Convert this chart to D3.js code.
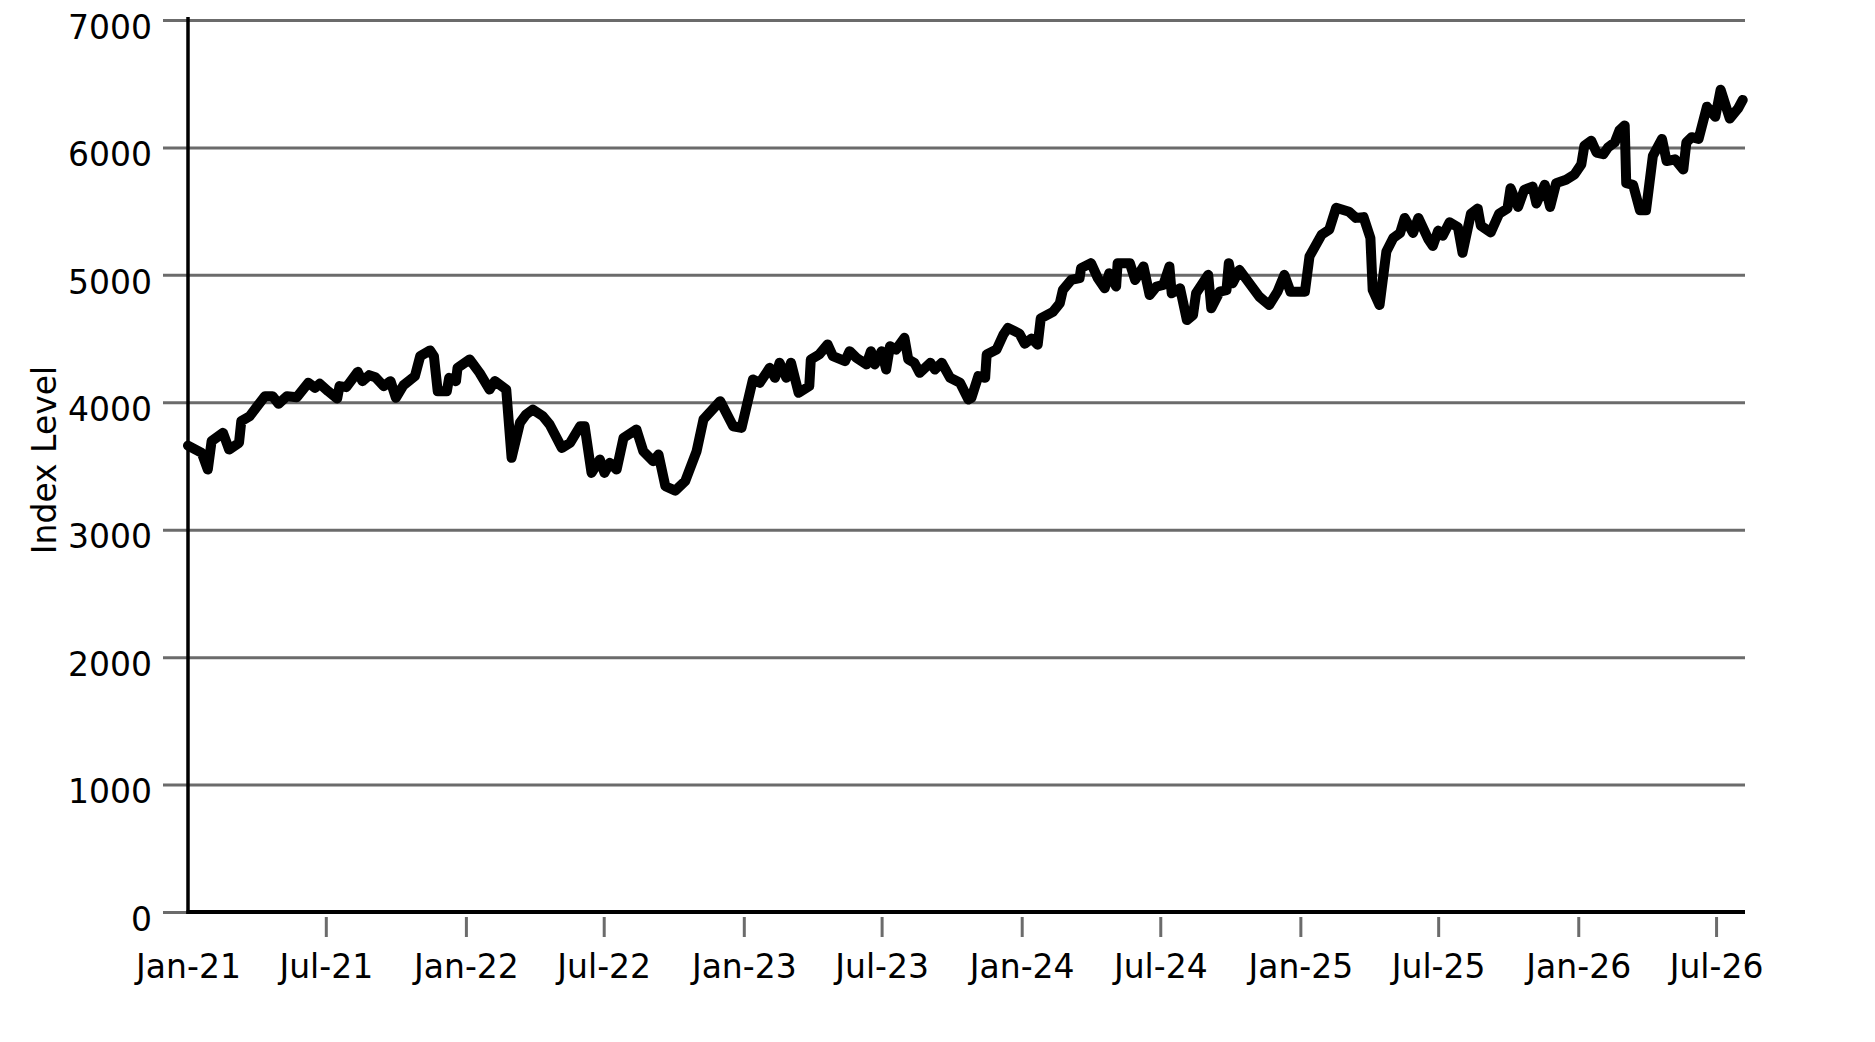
<!DOCTYPE html>
<html>
<head>
<meta charset="utf-8">
<script src="https://cdn.jsdelivr.net/npm/d3@7"></script>
<style>
  html, body { margin: 0; padding: 0; background: #fff; }
  svg { display: block; }
  svg text { font-family: "DejaVu Sans", sans-serif; }
</style>
</head>
<body>
<svg id="chart"></svg>
<script>
// weekly-ish index readings
const dates = [
  "2021-01-01","2021-01-19","2021-01-27","2021-02-01","2021-02-16","2021-02-24","2021-03-09","2021-03-12",
  "2021-03-23","2021-04-12","2021-04-22","2021-04-30","2021-05-11","2021-05-24","2021-06-08","2021-06-17",
  "2021-06-23","2021-07-04","2021-07-16","2021-07-19","2021-07-28","2021-08-12","2021-08-18","2021-08-27",
  "2021-09-04","2021-09-15","2021-09-24","2021-10-01","2021-10-11","2021-10-26","2021-11-02","2021-11-15",
  "2021-11-20","2021-11-25","2021-12-07","2021-12-10","2021-12-19","2021-12-21","2022-01-06","2022-01-19",
  "2022-02-01","2022-02-08","2022-02-23","2022-03-02","2022-03-13","2022-03-21","2022-03-30","2022-04-12",
  "2022-04-21","2022-05-07","2022-05-18","2022-05-31","2022-06-06","2022-06-15","2022-06-26","2022-07-02",
  "2022-07-09","2022-07-18","2022-07-27","2022-08-13","2022-08-22","2022-09-04","2022-09-11","2022-09-20",
  "2022-10-03","2022-10-16","2022-10-31","2022-11-09","2022-12-01","2022-12-18","2022-12-29","2023-01-13",
  "2023-01-22","2023-02-04","2023-02-11","2023-02-17","2023-02-26","2023-03-04","2023-03-14","2023-03-28",
  "2023-03-30","2023-04-10","2023-04-21","2023-04-28","2023-05-14","2023-05-20","2023-05-29","2023-06-11",
  "2023-06-17","2023-06-22","2023-07-01","2023-07-07","2023-07-12","2023-07-20","2023-07-31","2023-08-05",
  "2023-08-13","2023-08-20","2023-09-03","2023-09-09","2023-09-18","2023-09-29","2023-10-12","2023-10-23",
  "2023-10-27","2023-11-05","2023-11-14","2023-11-16","2023-11-29","2023-12-08","2023-12-14","2023-12-29",
  "2024-01-05","2024-01-14","2024-01-22","2024-01-26","2024-02-11","2024-02-20","2024-02-24","2024-03-06",
  "2024-03-17","2024-03-19","2024-04-01","2024-04-10","2024-04-19","2024-04-25","2024-05-04","2024-05-06",
  "2024-05-22","2024-05-29","2024-06-09","2024-06-17","2024-06-26","2024-07-05","2024-07-13","2024-07-16",
  "2024-07-27","2024-08-05","2024-08-13","2024-08-17","2024-09-02","2024-09-06","2024-09-17","2024-09-26",
  "2024-09-29","2024-10-04","2024-10-13","2024-11-08","2024-11-21","2024-12-02","2024-12-11","2024-12-19",
  "2025-01-07","2025-01-13","2025-01-29","2025-02-08","2025-02-17","2025-03-06","2025-03-15","2025-03-25",
  "2025-04-03","2025-04-06","2025-04-15","2025-04-24","2025-05-03","2025-05-12","2025-05-18","2025-05-29",
  "2025-06-05","2025-06-18","2025-06-24","2025-07-01","2025-07-07","2025-07-16","2025-07-27","2025-08-02",
  "2025-08-13","2025-08-22","2025-08-26","2025-09-08","2025-09-19","2025-09-30","2025-10-04","2025-10-14",
  "2025-10-22","2025-11-02","2025-11-07","2025-11-18","2025-11-25","2025-12-03","2025-12-16","2025-12-27",
  "2026-01-05","2026-01-09","2026-01-18","2026-01-25","2026-02-03","2026-02-09","2026-02-18","2026-02-24",
  "2026-03-03","2026-03-05","2026-03-14","2026-03-23","2026-03-31","2026-04-09","2026-04-21","2026-04-27",
  "2026-05-08","2026-05-19","2026-05-23","2026-05-30","2026-06-08","2026-06-19","2026-06-30","2026-07-07",
  "2026-07-19","2026-07-30","2026-08-05"
]

const values = [
  3660, 3603, 3472, 3695, 3760, 3629, 3682, 3852,
  3891, 4048, 4048, 3988, 4048, 4040, 4153, 4113,
  4145, 4087, 4030, 4127, 4119, 4239, 4166, 4213,
  4197, 4127, 4166, 4035, 4134, 4205, 4362, 4407,
  4362, 4087, 4087, 4192, 4166, 4270, 4336, 4231,
  4100, 4166, 4100, 3564, 3839, 3904, 3943, 3891,
  3826, 3642, 3682, 3812, 3812, 3446, 3551, 3446,
  3525, 3472, 3721, 3786, 3616, 3538, 3590, 3341,
  3307, 3381, 3616, 3865, 4009, 3812, 3799, 4179,
  4153, 4270, 4192, 4310, 4192, 4310, 4074, 4127,
  4336, 4375, 4454, 4362, 4323, 4401, 4349, 4297,
  4401, 4297, 4401, 4257, 4440, 4414, 4506, 4336,
  4310, 4231, 4310, 4257, 4310, 4192, 4153, 4022,
  4035, 4205, 4192, 4375, 4414, 4532, 4584, 4539,
  4460, 4500, 4452, 4658, 4710, 4776, 4881, 4960,
  4974, 5053, 5092, 4974, 4895, 5013, 4908, 5092,
  5092, 4960, 5066, 4842, 4908, 4921, 5066, 4855,
  4895, 4645, 4684, 4855, 5000, 4737, 4868, 4881,
  5092, 4934, 5039, 4829, 4763, 4868, 5000, 4868,
  4868, 5145, 5316, 5355, 5526, 5495, 5447, 5453,
  5289, 4881, 4763, 5184, 5289, 5329, 5447, 5329,
  5447, 5280, 5227, 5347, 5307, 5413, 5373, 5173,
  5480, 5520, 5387, 5333, 5480, 5520, 5680, 5533,
  5667, 5693, 5560, 5707, 5533, 5720, 5747, 5787,
  5867, 6013, 6053, 5960, 5947, 6000, 6040, 6133,
  6173, 5720, 5707, 5507, 5507, 5933, 6067, 5893,
  5907, 5827, 6040, 6080, 6067, 6320, 6240, 6453,
  6227, 6307, 6373
]

const yTicks = [0, 1000, 2000, 3000, 4000, 5000, 6000, 7000]
const xTickDates = [
  "2021-01-01","2021-07-01","2022-01-01","2022-07-01","2023-01-01","2023-07-01",
  "2024-01-01","2024-07-01","2025-01-01","2025-07-01","2026-01-01","2026-07-01"
]
const xTickLabels = [
  "Jan-21","Jul-21","Jan-22","Jul-22","Jan-23","Jul-23",
  "Jan-24","Jul-24","Jan-25","Jul-25","Jan-26","Jul-26"
]
const xStart = "2021-01-01"
const xEnd = "2026-08-08"

const parse = d3.timeParse("%Y-%m-%d")
const data = dates.map((d, i) => ({ date: parse(d), value: values[i] }))

const FONT = "'DejaVu Sans', sans-serif"

// svg container
const W = 1875
const H = 1042
const plotLeft = 188
const plotRight = 1745
const plotTop = 20
const plotBottom = 912

const svg = d3.select("#chart")
  .attr("width", W)
  .attr("height", H)

// scaling
const xScale = d3.scaleTime()
  .domain([parse(xStart), parse(xEnd)])
  .range([plotLeft, plotRight])

const yScale = d3.scaleLinear()
  .domain([0, 7000])
  .range([plotBottom, plotTop])

// gridlines (they also poke out left of the axis like ticks)
const grid = svg.append("g")
  .attr("transform", `translate(${plotLeft - 25}, 0)`)
  .call(d3.axisLeft(yScale)
    .tickValues(yTicks)
    .tickSize(-(plotRight - plotLeft + 25))
    .tickFormat(""))
grid.select(".domain").remove()
grid.selectAll(".tick line")
  .attr("stroke", "#6b6b6b")
  .attr("stroke-width", 3)

// y labels
const yAxis = svg.append("g")
  .attr("transform", `translate(${plotLeft}, 0)`)
  .call(d3.axisLeft(yScale)
    .tickValues(yTicks)
    .tickSize(0)
    .tickPadding(36)
    .tickSizeOuter(0)
    .tickFormat(d3.format("d")))
yAxis.attr("font-family", FONT)
yAxis.select(".domain").remove()
yAxis.selectAll("text")
  .attr("dy", "0.55em")
  .style("font-family", FONT)
  .style("font-size", "33px")
  .attr("fill", "#000")

// x axis
const xAxis = svg.append("g")
  .attr("transform", `translate(0, ${plotBottom})`)
  .call(d3.axisBottom(xScale)
    .tickValues(xTickDates.map(parse))
    .tickSizeOuter(0)
    .tickFormat((d, i) => xTickLabels[i]))
xAxis.attr("font-family", FONT)
xAxis.select(".domain").remove()
xAxis.selectAll(".tick line")
  .attr("y1", 5)
  .attr("y2", 25)
  .attr("stroke", "#6b6b6b")
  .attr("stroke-width", 3)
  .filter((d, i) => i === 0).remove()
xAxis.selectAll(".tick text")
  .attr("y", 66)
  .attr("dy", 0)
  .style("font-family", FONT)
  .style("font-size", "33px")
  .attr("fill", "#000")

// axis lines
svg.append("line")
  .attr("x1", plotLeft).attr("x2", plotLeft)
  .attr("y1", yScale(7000) - 3).attr("y2", plotBottom + 2)
  .attr("stroke", "#000")
  .attr("stroke-width", 3.5)

svg.append("line")
  .attr("x1", plotLeft - 1.5).attr("x2", plotRight)
  .attr("y1", plotBottom).attr("y2", plotBottom)
  .attr("stroke", "#000")
  .attr("stroke-width", 4)

// axis title
svg.append("text")
  .attr("transform", `translate(56, ${(plotTop + plotBottom) / 2 - 6}) rotate(-90)`)
  .attr("text-anchor", "middle")
  .style("font-family", FONT)
  .style("font-size", "33px")
  .attr("fill", "#000")
  .text("Index Level")

// draw data
const line = d3.line()
  .x(d => xScale(d.date))
  .y(d => yScale(d.value))

svg.append("path")
  .datum(data)
  .attr("d", line)
  .attr("fill", "none")
  .attr("stroke", "#000")
  .attr("stroke-width", 10)
  .attr("stroke-linejoin", "round")
  .attr("stroke-linecap", "round")
</script>
</body>
</html>
